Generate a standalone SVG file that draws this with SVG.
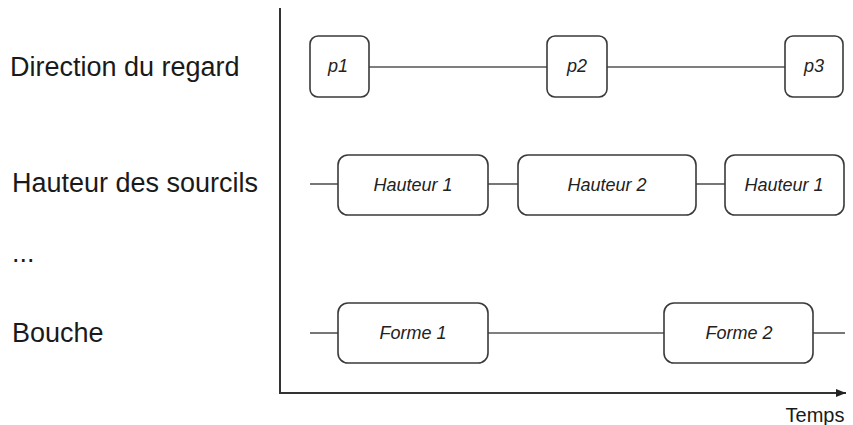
<svg xmlns="http://www.w3.org/2000/svg" width="853" height="425" viewBox="0 0 853 425">
<defs>
<style>
.lbl{font-family:"Liberation Sans",Arial,sans-serif;font-size:27px;fill:#1a1a1a}
.box rect{fill:#fff;stroke:#3a3a3a;stroke-width:1.6}
.box text{font-family:"Liberation Sans",Arial,sans-serif;font-size:18px;font-style:italic;fill:#222;text-anchor:middle}
.conn line{stroke:#555;stroke-width:1.6}
.axis{stroke:#333;stroke-width:2;fill:none}
</style>
<marker id="arr" viewBox="0 0 10 10" refX="10" refY="5" markerWidth="10" markerHeight="8" orient="auto" markerUnits="userSpaceOnUse" preserveAspectRatio="none">
<path d="M0,0 L10,5 L0,10 Z" fill="#222"/>
</marker>
</defs>
<rect width="853" height="425" fill="#fff"/>
<g id="labels">
<text class="lbl" x="10" y="76">Direction du regard</text>
<text class="lbl" x="12" y="192">Hauteur des sourcils</text>
<text class="lbl" x="12" y="262">...</text>
<text class="lbl" x="12" y="342">Bouche</text>
</g>
<g id="axes">
<line class="axis" x1="280" y1="8" x2="280" y2="393"/>
<line class="axis" x1="279" y1="393" x2="846" y2="393" marker-end="url(#arr)"/>
<text x="815" y="422" font-family="Liberation Sans, Arial, sans-serif" font-size="20" fill="#1a1a1a" text-anchor="middle">Temps</text>
</g>
<g class="conn" id="connectors">
<line x1="369" y1="67" x2="547" y2="67"/>
<line x1="607" y1="67" x2="785" y2="67"/>
<line x1="310" y1="184" x2="338" y2="184"/>
<line x1="488" y1="184" x2="518" y2="184"/>
<line x1="696" y1="184" x2="725" y2="184"/>
<line x1="310" y1="333" x2="338" y2="333"/>
<line x1="488" y1="333" x2="664" y2="333"/>
<line x1="813" y1="333" x2="845" y2="333"/>
</g>
<g class="box" id="p1"><rect x="310" y="36" width="59" height="61" rx="8"/><text x="338" y="72">p1</text></g>
<g class="box" id="p2"><rect x="547" y="36" width="60" height="61" rx="8"/><text x="577" y="72">p2</text></g>
<g class="box" id="p3"><rect x="785" y="36" width="58" height="61" rx="8"/><text x="814" y="72">p3</text></g>
<g class="box" id="hauteur1a"><rect x="338" y="155" width="150" height="60" rx="10"/><text x="413" y="191">Hauteur 1</text></g>
<g class="box" id="hauteur2"><rect x="518" y="155" width="178" height="60" rx="10"/><text x="607" y="191">Hauteur 2</text></g>
<g class="box" id="hauteur1b"><rect x="725" y="155" width="119" height="60" rx="10"/><text x="784" y="191">Hauteur 1</text></g>
<g class="box" id="forme1"><rect x="338" y="303" width="150" height="60" rx="10"/><text x="413" y="339">Forme 1</text></g>
<g class="box" id="forme2"><rect x="664" y="303" width="149" height="60" rx="10"/><text x="739" y="339">Forme 2</text></g>
</svg>
